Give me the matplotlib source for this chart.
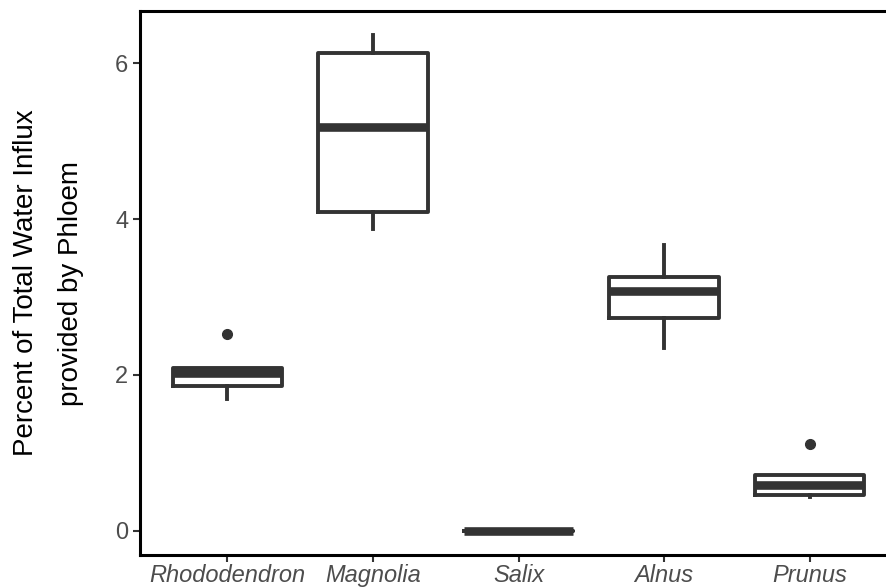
import numpy as np
import matplotlib.pyplot as plt

# box stats
species = ['Rhododendron', 'Magnolia', 'Salix', 'Alnus', 'Prunus']
whislo = [1.69, 3.87, 0.0, 2.35, 0.44]
q1 = [1.86, 4.09, 0.0, 2.73, 0.46]
med = [2.03, 5.18, 0.0, 3.08, 0.59]
q3 = [2.09, 6.13, 0.0, 3.26, 0.72]
whishi = [2.09, 6.36, 0.0, 3.67, 0.72]
outliers = [[2.53], [], [], [], [1.12]]

plt.rcParams['font.family'] = ['Liberation Sans', 'DejaVu Sans']

fig = plt.figure(figsize=(8.86, 5.88), dpi=100)
ax = fig.add_axes([140 / 886, 33 / 588, 757 / 886, 544 / 588])

stats = []
for i, name in enumerate(species):
    stats.append({'label': name, 'whislo': whislo[i], 'q1': q1[i], 'med': med[i],
                  'q3': q3[i], 'whishi': whishi[i], 'fliers': outliers[i]})

col = '#333333'
ax.bxp(stats, positions=np.arange(1, 6), widths=0.75, showcaps=False,
       boxprops=dict(color=col, linewidth=2.8),
       whiskerprops=dict(color=col, linewidth=2.8),
       medianprops=dict(color=col, linewidth=6.2, solid_capstyle='butt'),
       flierprops=dict(marker='o', markerfacecolor=col, markeredgecolor=col, markersize=7))

ax.set_xlim(0.4, 5.6)
ax.set_ylim(-0.31, 6.67)
ax.set_yticks([0, 2, 4, 6])
ax.set_xticks(np.arange(1, 6))
ax.set_xticklabels(species, fontstyle='italic')
ax.tick_params(axis='both', colors='#333333', labelcolor='#4d4d4d', labelsize=17,
               width=1.5, length=5)
ax.tick_params(axis='x', pad=1.5)

for s in ['left', 'bottom', 'top']:
    ax.spines[s].set_linewidth(2.2)
    ax.spines[s].set_color('black')
ax.spines['right'].set_visible(False)

ax.set_ylabel('Percent of Total Water Influx\nprovided by Phloem', fontsize=20,
              color='black', labelpad=22, linespacing=1.95)

fig.savefig('out.png', dpi=100)
